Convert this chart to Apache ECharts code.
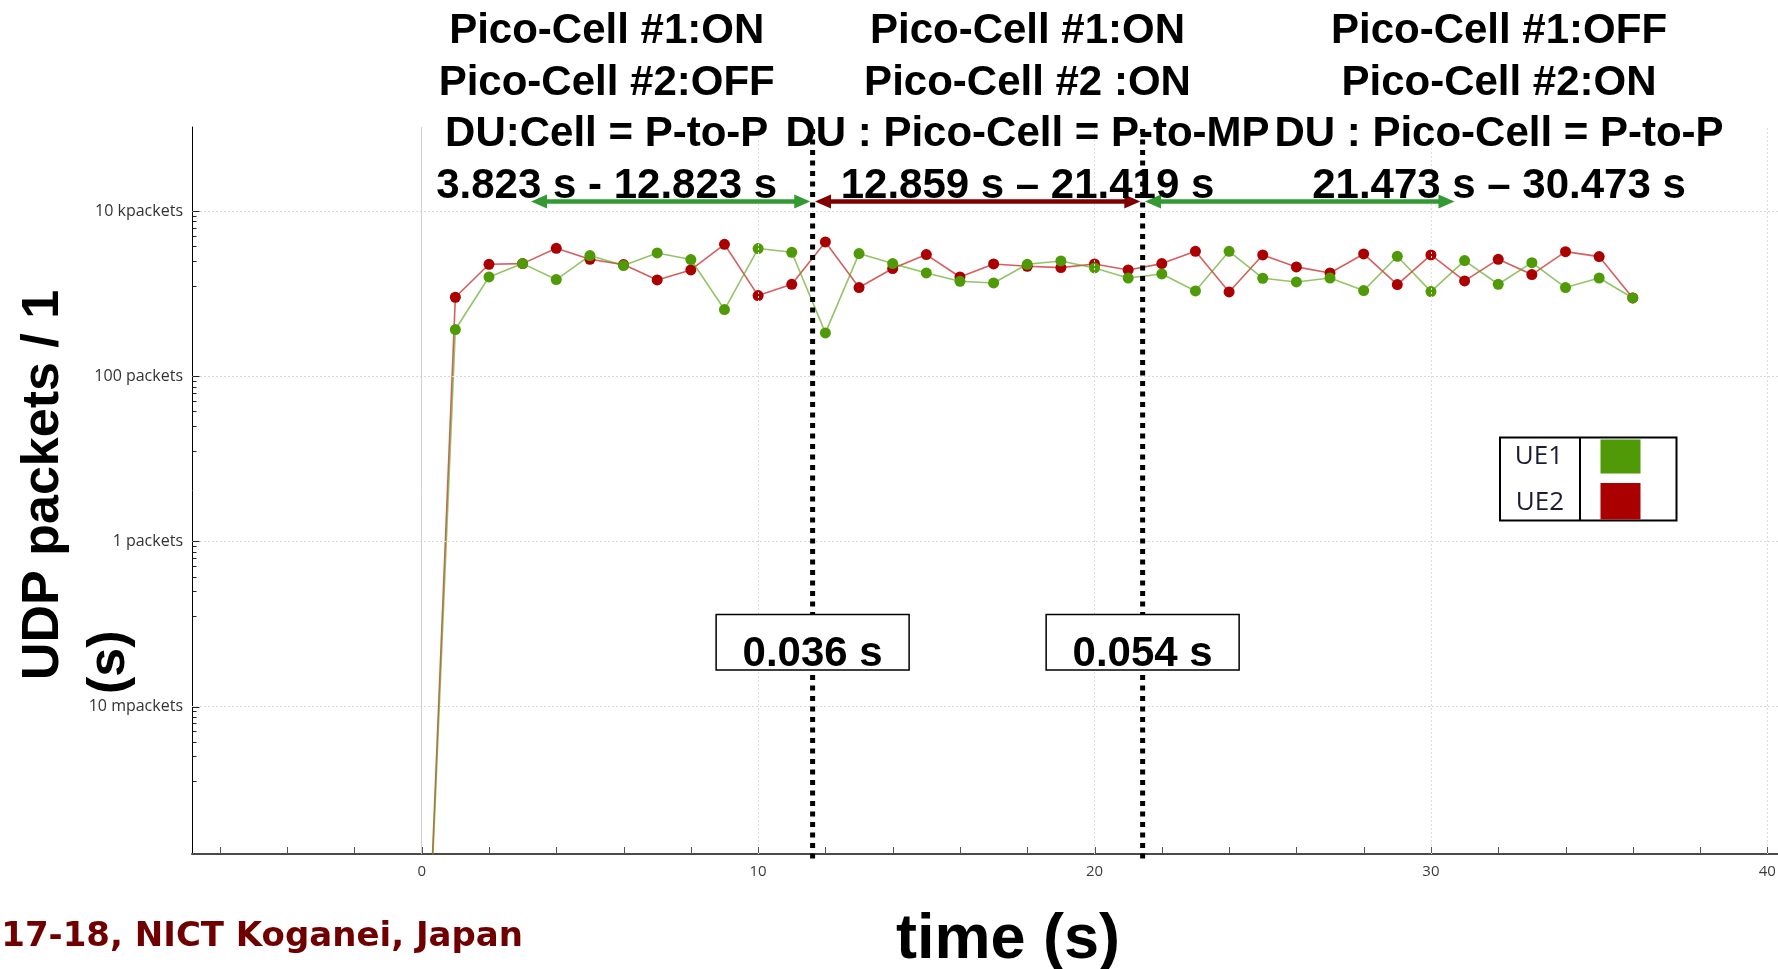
<!DOCTYPE html>
<html>
<head>
<meta charset="utf-8">
<script src="https://cdn.jsdelivr.net/npm/echarts@6/dist/echarts.min.js"></script>
<style>
html,body{margin:0;padding:0;background:#fff;overflow:hidden;}
#c{width:1778px;height:969px;}
</style>
</head>
<body>
<div id="c"></div>
<script>
// ---------------- data ----------------
const times = [0,1,2,3,4,5,6,7,8,9,10,11,12,13,14,15,16,17,18,19,20,21,22,23,24,25,26,27,28,29,30,31,32,33,34,35,36];
const ue1 = [1e-7,367,1589,2307,1479,2884,2183,3105,2582,641,3508,3162,334,3049,2307,1778,1408,1345,2265,2483,2042,1545,1730,1076,3251,1534,1384,1545,1088,2831,1057,2510,1297,2370,1183,1545,885];
const ue2 = [1e-7,903,2265,2307,3538,2600,2245,1462,1932,3955,946,1297,4220,1183,2010,2965,1589,2286,2142,2065,2286,1932,2307,3251,1047,2938,2104,1778,3020,1285,2938,1424,2600,1698,3221,2806,885];

const yTickValues = [0.01, 1, 100, 10000];
const yTickLabels = ['10 mpackets', '1 packets', '100 packets', '10 kpackets'];
const yMinorFractions = [0.125, 0.25, 0.375, 0.5, 0.625, 0.75, 0.875];
const xTickValues = [0, 10, 20, 30, 40];
const xTickLabels = ['0', '10', '20', '30', '40'];
const xTickPositions = [-6,-4,-2,0,2,4,6,8,10,12,14,16,18,20,22,24,26,28,30,32,34,36,38,40];

const switchTimes = [11.62, 21.43];
const switchLabels = ['0.036 s', '0.054 s'];
const phaseArrows = [[3.25, 11.55], [11.69, 21.36], [21.50, 30.70]];
const phaseKinds = ['P-to-P', 'P-to-MP', 'P-to-P'];
const phaseTexts = [
  ['Pico-Cell #1:ON', 'Pico-Cell #2:OFF', 'DU:Cell = P-to-P', '3.823 s - 12.823 s'],
  ['Pico-Cell #1:ON', 'Pico-Cell #2 :ON', 'DU : Pico-Cell = P-to-MP', '12.859 s \u2013 21.419 s'],
  ['Pico-Cell #1:OFF', 'Pico-Cell #2:ON', 'DU : Pico-Cell = P-to-P', '21.473 s \u2013 30.473 s']
];
const seriesNames = ['UE1', 'UE2'];

// ---------------- layout / style ----------------
const X_MIN = -6.828, X_MAX = 41;
const Y_MIN = 1.64e-4, Y_MAX = 1.04e5;
const GREEN = '#4f9a06', RED = '#aa0000';
const ARROW_COLORS = {'P-to-P': '#339933', 'P-to-MP': '#800000'};
const BOLD = '"Liberation Sans", Arial, Helvetica, sans-serif';
const UI = '"Open Sans", "Noto Sans", sans-serif';

const yTickMarks = [];
yTickValues.forEach(v => {
  yTickMarks.push([X_MIN, v, 1]);
  yMinorFractions.forEach(f => yTickMarks.push([X_MIN, v * f, 0]));
});
const xTickMarks = xTickPositions.map(x => [x, Y_MIN, 1]);

const gridLines = [];
yTickValues.forEach(v => gridLines.push({yAxis: v, lineStyle: {color: '#d9d9d9', width: 1, type: [2, 2]}}));
xTickValues.forEach(v => gridLines.push({xAxis: v, lineStyle: v === 0 ? {color: '#cfcfcf', width: 1, type: 'solid'} : {color: '#dedede', width: 1, type: [2, 2]}}));

const blockCenters = [606.7, 1027.5, 1499];
const lineCentersY = [31.5, 83, 134.5, 186];

const graphics = [];
phaseTexts.forEach((lines, b) => {
  lines.forEach((t, i) => {
    graphics.push({
      type: 'text', x: blockCenters[b], y: lineCentersY[i], z: 20,
      style: {text: t, fill: '#000', font: 'bold 42px ' + BOLD, align: 'center', verticalAlign: 'middle', textAlign: 'center', textVerticalAlign: 'middle'}
    });
  });
});
// axis titles
graphics.push({type: 'text', x: 44, y: 680, rotation: Math.PI / 2, z: 20,
  style: {text: 'UDP packets / 1', fill: '#000', font: 'bold 52px ' + BOLD, align: 'left', verticalAlign: 'middle', textAlign: 'left', textVerticalAlign: 'middle'}});
graphics.push({type: 'text', x: 110, y: 694, rotation: Math.PI / 2, z: 20,
  style: {text: '(s)', fill: '#000', font: 'bold 52px ' + BOLD, align: 'left', verticalAlign: 'middle', textAlign: 'left', textVerticalAlign: 'middle'}});
graphics.push({type: 'text', x: 1008, y: 941, z: 20,
  style: {text: 'time (s)', fill: '#000', font: 'bold 63px ' + BOLD, align: 'center', verticalAlign: 'middle', textAlign: 'center', textVerticalAlign: 'middle'}});
// watermark
graphics.push({type: 'text', x: 523, y: 937, z: 20,
  style: {text: '17-18, NICT Koganei, Japan', fill: '#700000', font: 'bold 34px "DejaVu Sans", sans-serif', align: 'right', verticalAlign: 'middle', textAlign: 'right', textVerticalAlign: 'middle'}});
// legend table
graphics.push({type: 'rect', z: 20, shape: {x: 1500, y: 437.5, width: 176.5, height: 83}, style: {fill: '#fff', stroke: '#000', lineWidth: 2}});
graphics.push({type: 'line', z: 21, shape: {x1: 1580, y1: 437.5, x2: 1580, y2: 520.5}, style: {stroke: '#000', lineWidth: 2}});
graphics.push({type: 'rect', z: 21, shape: {x: 1600.5, y: 439.5, width: 40, height: 34}, style: {fill: GREEN}});
graphics.push({type: 'rect', z: 21, shape: {x: 1600.5, y: 483, width: 40, height: 36.5}, style: {fill: RED}});
graphics.push({type: 'text', x: 1539, y: 457, z: 21,
  style: {text: seriesNames[0], fill: '#1c1c30', font: '26px ' + UI, align: 'center', verticalAlign: 'middle', textAlign: 'center', textVerticalAlign: 'middle'}});
graphics.push({type: 'text', x: 1540, y: 503, z: 21,
  style: {text: seriesNames[1], fill: '#1c1c30', font: '26px ' + UI, align: 'center', verticalAlign: 'middle', textAlign: 'center', textVerticalAlign: 'middle'}});

const chart = echarts.init(document.getElementById('c'), null, {renderer: 'canvas', width: 1778, height: 969});

const option = {
  animation: false,
  backgroundColor: '#fff',
  grid: {left: 192, top: 127, right: -23, bottom: 115, containLabel: false, outerBoundsMode: 'none'},
  xAxis: {
    type: 'value', min: X_MIN, max: X_MAX, splitNumber: 5,
    axisLine: {show: true, onZero: false, lineStyle: {color: '#4a4a4a', width: 2}},
    axisTick: {show: false},
    splitLine: {show: false},
    minorTick: {show: false},
    axisLabel: {
      showMinLabel: false, showMaxLabel: false, margin: 10,
      color: '#3c3c3c', fontSize: 15, fontFamily: UI,
      formatter: v => { const i = xTickValues.indexOf(Math.round(v * 1000) / 1000); return i >= 0 ? xTickLabels[i] : ''; }
    }
  },
  yAxis: {
    type: 'log', logBase: 100, min: Y_MIN, max: Y_MAX,
    axisLine: {show: true, onZero: false, lineStyle: {color: '#000', width: 1}},
    axisTick: {show: false},
    splitLine: {show: false},
    axisLabel: {
      showMinLabel: false, showMaxLabel: false, margin: 9,
      color: '#333', fontSize: 16, fontFamily: UI,
      formatter: v => {
        for (let i = 0; i < yTickValues.length; i++) {
          if (Math.abs(v - yTickValues[i]) / yTickValues[i] < 1e-6) return yTickLabels[i];
        }
        return '';
      }
    }
  },
  graphic: graphics,
  series: [
    {
      type: 'line', data: [[X_MIN, Y_MIN]], symbol: 'none', silent: true, z: 1,
      lineStyle: {opacity: 0},
      markLine: {silent: true, symbol: ['none', 'none'], label: {show: false}, animation: false, data: gridLines}
    },
    {
      name: seriesNames[1], type: 'line', z: 3,
      data: times.map((t, i) => [t, ue2[i]]),
      symbol: 'circle', symbolSize: 11, showSymbol: true, showAllSymbol: true, clip: true,
      itemStyle: {color: RED},
      lineStyle: {color: '#c41a1a', width: 1.6, opacity: 0.7},
      emphasis: {disabled: true}
    },
    {
      name: seriesNames[0], type: 'line', z: 4,
      data: times.map((t, i) => [t, ue1[i]]),
      symbol: 'circle', symbolSize: 11, showSymbol: true, showAllSymbol: true, clip: true,
      itemStyle: {color: GREEN},
      lineStyle: {color: '#5aa516', width: 1.6, opacity: 0.65},
      emphasis: {disabled: true}
    },
    {
      // y axis ticks (major + minor)
      type: 'custom', silent: true, clip: false, z: 6,
      data: yTickMarks,
      renderItem: (params, api) => {
        const p = api.coord([api.value(0), api.value(1)]);
        const len = api.value(2) ? 7 : 4;
        const x = Math.round(p[0]) + 0.5, y = Math.round(p[1]) + 0.5;
        return {type: 'line', shape: {x1: x, y1: y, x2: x + len, y2: y}, style: {stroke: '#222', lineWidth: 1}};
      }
    },
    {
      // x axis ticks
      type: 'custom', silent: true, clip: false, z: 6,
      data: xTickMarks,
      renderItem: (params, api) => {
        const p = api.coord([api.value(0), api.value(1)]);
        const x = Math.round(p[0]) + 0.5;
        return {type: 'line', shape: {x1: x, y1: p[1] - 1, x2: x, y2: p[1] - 7}, style: {stroke: '#555', lineWidth: 1}};
      }
    },
    {
      // phase arrows
      type: 'custom', silent: true, clip: false, z: 7,
      data: phaseArrows,
      renderItem: (params, api) => {
        const x0 = api.coord([api.value(0), 1])[0];
        const x1 = api.coord([api.value(1), 1])[0];
        const y = 201.5, hl = 16, hh = 7;
        const c = ARROW_COLORS[phaseKinds[params.dataIndex]];
        return {type: 'group', children: [
          {type: 'line', shape: {x1: x0 + hl - 1, y1: y, x2: x1 - hl + 1, y2: y}, style: {stroke: c, lineWidth: 4.5}},
          {type: 'polygon', shape: {points: [[x0, y], [x0 + hl, y - hh], [x0 + hl, y + hh]]}, style: {fill: c}},
          {type: 'polygon', shape: {points: [[x1, y], [x1 - hl, y - hh], [x1 - hl, y + hh]]}, style: {fill: c}}
        ]};
      }
    },
    {
      // switch markers: dotted lines and interruption-time boxes
      type: 'custom', silent: true, clip: false, z: 8,
      data: switchTimes.map(t => [t, 1]),
      renderItem: (params, api) => {
        const x = api.coord([api.value(0), api.value(1)])[0];
        return {type: 'group', children: [
          {type: 'line', shape: {x1: x, y1: 129, x2: x, y2: 862}, style: {stroke: '#000', lineWidth: 5, lineDash: [5, 5.5], lineCap: 'butt'}},
          {type: 'rect', shape: {x: x - 96.5, y: 614.5, width: 193, height: 55.5}, style: {fill: '#fff', stroke: '#000', lineWidth: 1.5}},
          {type: 'text', x: x, y: 654.5, style: {text: switchLabels[params.dataIndex], fill: '#000', font: 'bold 42px ' + BOLD, align: 'center', verticalAlign: 'middle', textAlign: 'center', textVerticalAlign: 'middle'}}
        ]};
      }
    }
  ]
};
chart.setOption(option);
</script>
</body>
</html>
